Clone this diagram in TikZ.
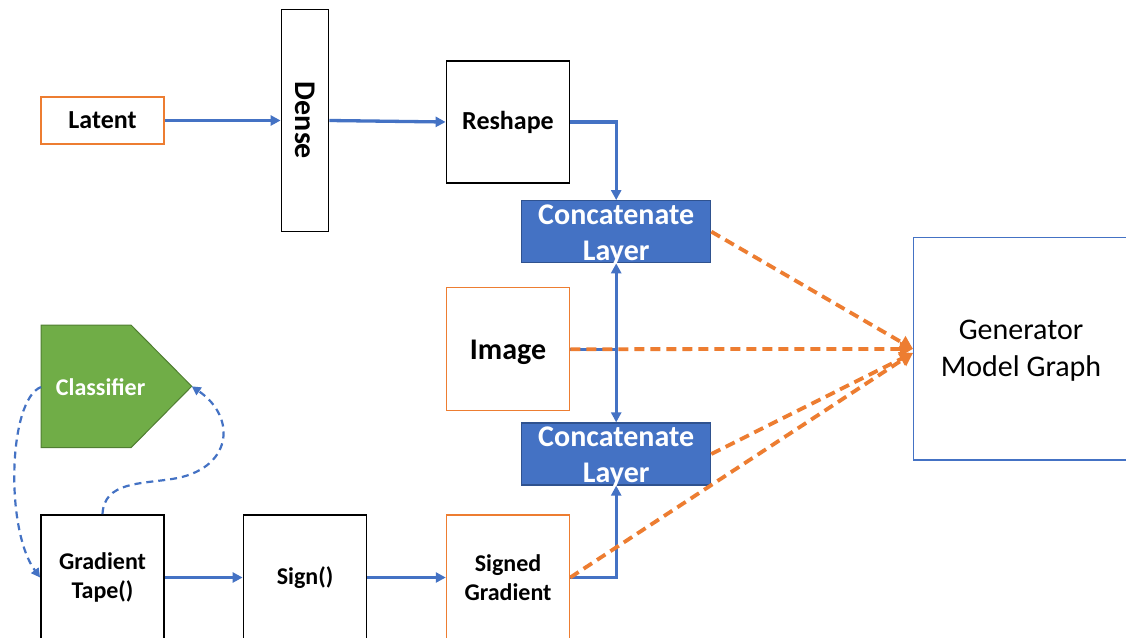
\documentclass[tikz,border=0pt]{standalone}
\usepackage{fontspec}
\setmainfont{Carlito}
\usetikzlibrary{arrows.meta}
\definecolor{flowblue}{HTML}{4472C4}
\definecolor{flowblueedge}{HTML}{2F528F}
\definecolor{inputorange}{HTML}{ED7D31}
\definecolor{clsgreen}{HTML}{70AD47}
\definecolor{clsgreenedge}{HTML}{507E32}

\begin{document}
\begin{tikzpicture}[x=1pt,y=-1pt,
  box/.style={draw=black, line width=1.8pt, fill=white, minimum width=123pt,
    inner sep=2pt, align=center, font=\fontsize{24}{29}\selectfont\bfseries},
  inbox/.style={box, draw=inputorange, line width=1.5pt},
  bigfont/.style={font=\fontsize{26}{31}\selectfont\bfseries},
  catbox/.style={draw=flowblueedge, line width=1.3pt, fill=flowblue,
    minimum width=189pt, minimum height=62pt},
  cattext/.style={text=white, align=center, inner sep=0pt,
    font=\fontsize{30}{36}\selectfont\bfseries},
  flow/.style={draw=flowblue, line width=3.3pt, -{Triangle[length=10pt,width=10pt]}},
  flowline/.style={draw=flowblue, line width=3.3pt},
  feed/.style={draw=inputorange, line width=3.8pt, dash pattern=on 10pt off 6pt,
    -{Triangle[length=13pt,width=14pt]}},
  loopback/.style={draw=flowblue, line width=2.2pt, dash pattern=on 7pt off 5pt,
    -{Triangle[length=9pt,width=9pt]}},
]
\useasboundingbox (0,0) rectangle (1126,637);
\fill[white] (0,0) rectangle (1126,637);
\clip (0,0) rectangle (1126,637);

% latent branch
\node[inbox, bigfont, minimum height=47pt] (lat) at (102.5,120.5) {Latent};
\node[box, minimum width=47pt, minimum height=222pt] (dense) at (305,120.5) {};
\node[font=\fontsize{30}{36}\selectfont\bfseries, rotate=-90] (denset) at (dense.center) {Dense};
\node[box, bigfont, minimum height=122pt] (resh) at (508,122) {Reshape};

% concatenation layers and image input
\node[catbox] (cat1) at (616.2,231.7) {};
\node[cattext] (cat1t) at ([yshift=-3pt]cat1.center) {Concatenate\\Layer};
\node[inbox, minimum height=123pt] (img) at (508,349.2) {};
\node[font=\fontsize{30}{36}\selectfont\bfseries] (imgt) at ([yshift=-3pt]img.center) {Image};
\node[catbox] (cat2) at (616.2,454) {};
\node[cattext] (cat2t) at ([yshift=-3pt]cat2.center) {Concatenate\\Layer};

% generator
\node[draw=flowblue, line width=1.3pt, minimum width=214.8pt, minimum height=222.3pt] (gen) at (1021,348.9) {};
\node[align=center, font=\fontsize{30}{37}\selectfont] (gent) at ([yshift=-2pt]gen.center) {Generator\\Model Graph};

% classifier
\path[fill=clsgreen, draw=clsgreenedge, line width=1pt]
  (41,325) -- (131,325) -- (191.7,386.3) -- (131,447.7) -- (41,447.7) -- cycle;
\node[text=white, font=\fontsize{24}{29}\selectfont\bfseries] (cls) at (100.6,387) {Classifier};
\coordinate (clsL) at (41,387);
\coordinate (clsTip) at (191.7,386.3);

% gradient row
\node[box, minimum height=125pt] (gt) at (102.5,577.5) {Gradient\\Tape()};
\node[box, minimum height=125pt] (sign) at (305,577.5) {Sign()};
\node[inbox, minimum height=125pt] (sgn) at (508,577.5) {Signed\\Gradient};

% solid flow
\draw[flow] (lat.east) -- (dense.west |- lat.east);
\draw[flow] (dense.east) -- (resh.west);
\draw[flow] (resh.east) -| (cat1.north);
\coordinate (jn) at (cat1.south |- img.east);
\draw[flowline] (img.east) -- (jn);
\draw[flow] (jn) -- (cat1.south);
\draw[flow] (jn) -- (cat2.north);
\draw[flow] (gt.east) -- (sign.west);
\draw[flow] (sign.east) -- (sgn.west);
\draw[flow] (sgn.east) -| (cat2.south);

% gradient loop
\draw[loopback] (clsL) .. controls (8,400) and (5,530) .. (gt.west);
\draw[loopback] (gt.north) .. controls (104,482) and (140,484) .. (172,479)
  .. controls (232,470) and (238,418) .. (clsTip);

% inputs to the generator
\draw[feed] (cat1.east) -- (gen.west);
\draw[feed] (img.east) -- (gen.west);
\draw[feed] (cat2.east) -- ([yshift=-4pt]gen.west);
\draw[feed] (sgn.east) -- ([yshift=-4pt]gen.west);
\end{tikzpicture}
\end{document}
